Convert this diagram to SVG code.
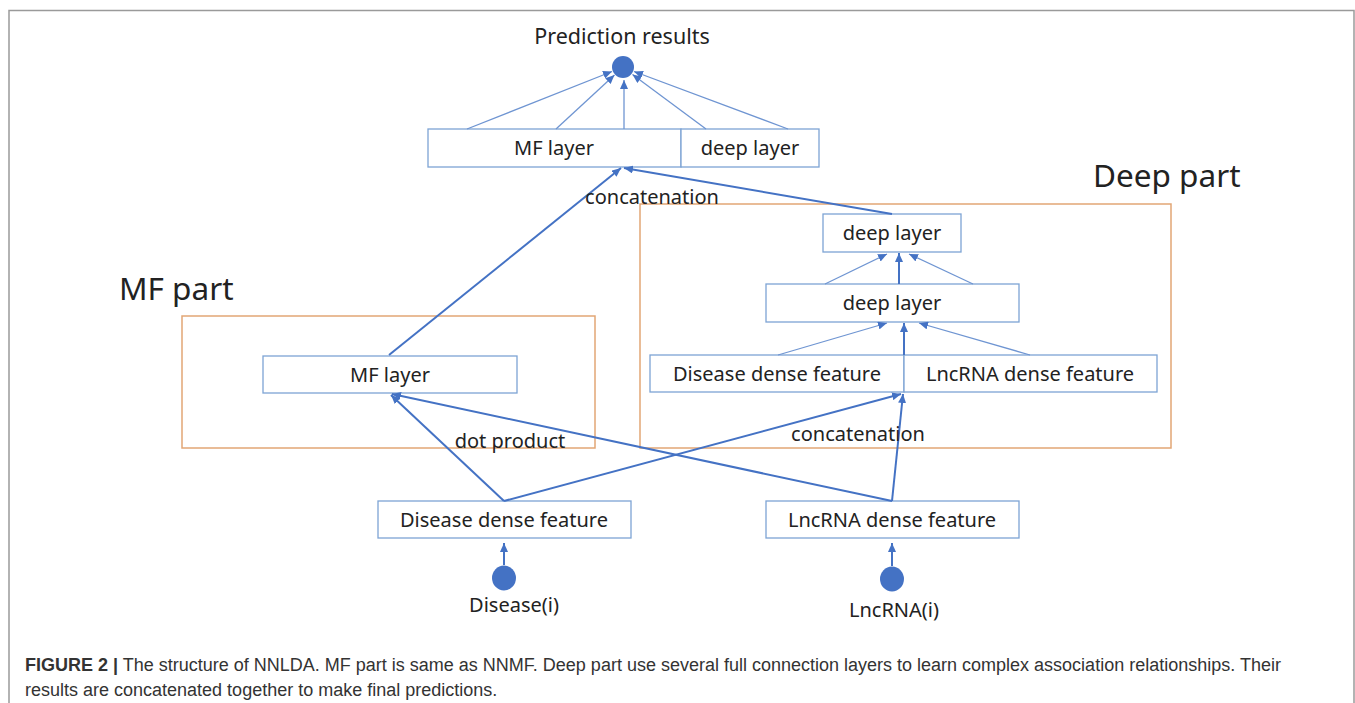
<svg xmlns="http://www.w3.org/2000/svg" width="1355" height="703" viewBox="0 0 1355 703">
<style>
.bg{fill:#fff}
.frame{fill:none;stroke:#9a9a9a;stroke-width:1.5}
.part{fill:none;stroke:#e2a675;stroke-width:1.5}
.box{fill:#fff;stroke:#7da4d4;stroke-width:1.3}
.t{font-family:"Noto Sans","Open Sans",sans-serif;fill:#222;text-anchor:middle}
.m{font-size:20px}
.big{font-size:31.5px;text-anchor:start}
.dot{fill:#4472c4}
.c{fill:none;stroke:#4472c4;stroke-width:2;marker-end:url(#ah)}
.ct{fill:none;stroke:#6f95d2;stroke-width:1.3;marker-end:url(#ah)}
.cap{font-family:"Liberation Sans",Arial,sans-serif;font-size:18px;fill:#333}
</style>
<defs>
<marker id="ah" markerUnits="userSpaceOnUse" markerWidth="10" markerHeight="8" refX="9" refY="4" orient="auto">
<path d="M0,0 L9,4 L0,8 z" fill="#4472c4"/>
</marker>
</defs>
<rect class="bg" x="0" y="0" width="1355" height="703"/>
<rect class="frame" x="9" y="10.5" width="1345" height="720"/>

<g id="mf-part">
<rect class="part" x="182" y="316" width="413" height="132"/>
<text class="t big" x="119" y="300">MF part</text>
</g>
<g id="deep-part">
<rect class="part" x="640" y="204" width="531" height="244"/>
<text class="t big" x="1093" y="187">Deep part</text>
</g>

<g id="prediction">
<circle class="dot" cx="623" cy="67" r="11"/>
<text class="t" x="622" y="44" font-size="21.5">Prediction results</text>
</g>
<g id="top-concat">
<rect class="box" x="428" y="129" width="253" height="38"/>
<rect class="box" x="681" y="129" width="138" height="38"/>
<text class="t m" x="554" y="155">MF layer</text>
<text class="t m" x="750" y="155">deep layer</text>
</g>
<g id="deep-layer-2">
<rect class="box" x="823" y="214" width="138" height="38"/>
<text class="t m" x="892" y="240">deep layer</text>
</g>
<g id="deep-layer-1">
<rect class="box" x="766" y="284" width="253" height="38"/>
<text class="t m" x="892" y="310">deep layer</text>
</g>
<g id="dense-concat">
<rect class="box" x="650" y="355" width="254" height="37"/>
<rect class="box" x="904" y="355" width="253" height="37"/>
<text class="t m" x="777" y="381">Disease dense feature</text>
<text class="t m" x="1030" y="381">LncRNA dense feature</text>
</g>
<g id="mf-layer">
<rect class="box" x="263" y="356" width="254" height="37"/>
<text class="t m" x="390" y="382">MF layer</text>
</g>
<g id="disease-feature">
<rect class="box" x="378" y="501" width="253" height="37"/>
<text class="t m" x="504" y="527">Disease dense feature</text>
</g>
<g id="lncrna-feature">
<rect class="box" x="766" y="501" width="253" height="37"/>
<text class="t m" x="892" y="527">LncRNA dense feature</text>
</g>
<g id="disease-input">
<ellipse class="dot" cx="504" cy="578" rx="12" ry="12.5"/>
<text class="t m" x="514" y="612">Disease(i)</text>
</g>
<g id="lncrna-input">
<ellipse class="dot" cx="892" cy="579" rx="12" ry="12.5"/>
<text class="t m" x="894" y="617">LncRNA(i)</text>
</g>

<g id="connectors">
<line class="ct" x1="467" y1="129" x2="612" y2="71.5"/>
<line class="ct" x1="556" y1="129" x2="614.5" y2="75"/>
<line class="ct" x1="624" y1="129" x2="624" y2="80"/>
<line class="ct" x1="706" y1="129" x2="632.5" y2="74.5"/>
<line class="ct" x1="788" y1="129" x2="634" y2="71.5"/>
<line class="c" x1="389" y1="355" x2="621" y2="168"/>
<line class="c" x1="892" y1="214" x2="624" y2="168"/>
<line class="ct" x1="825" y1="284" x2="887" y2="254"/>
<line class="c" x1="899" y1="284" x2="899" y2="253"/>
<line class="ct" x1="973" y1="284" x2="909" y2="254"/>
<line class="ct" x1="778" y1="355" x2="887" y2="323"/>
<line class="c" x1="904" y1="355" x2="904" y2="323"/>
<line class="ct" x1="1030" y1="355" x2="919" y2="323"/>
<line class="c" x1="504" y1="501" x2="391" y2="395"/>
<line class="c" x1="504" y1="501" x2="901" y2="394"/>
<line class="c" x1="892" y1="501" x2="392" y2="394"/>
<line class="c" x1="892" y1="501" x2="903" y2="394"/>
<line class="c" x1="504" y1="565" x2="504" y2="543"/>
<line class="c" x1="892" y1="566" x2="892" y2="543"/>
</g>
<g id="labels">
<text class="t m" x="652" y="204">concatenation</text>
<text class="t m" x="510" y="448">dot product</text>
<text class="t m" x="858" y="441">concatenation</text>
</g>
<g id="caption">
<text class="cap" x="25" y="671"><tspan font-weight="bold">FIGURE 2 |</tspan> The structure of NNLDA. MF part is same as NNMF. Deep part use several full connection layers to learn complex association relationships. Their</text>
<text class="cap" x="25" y="696">results are concatenated together to make final predictions.</text>
</g>
</svg>
